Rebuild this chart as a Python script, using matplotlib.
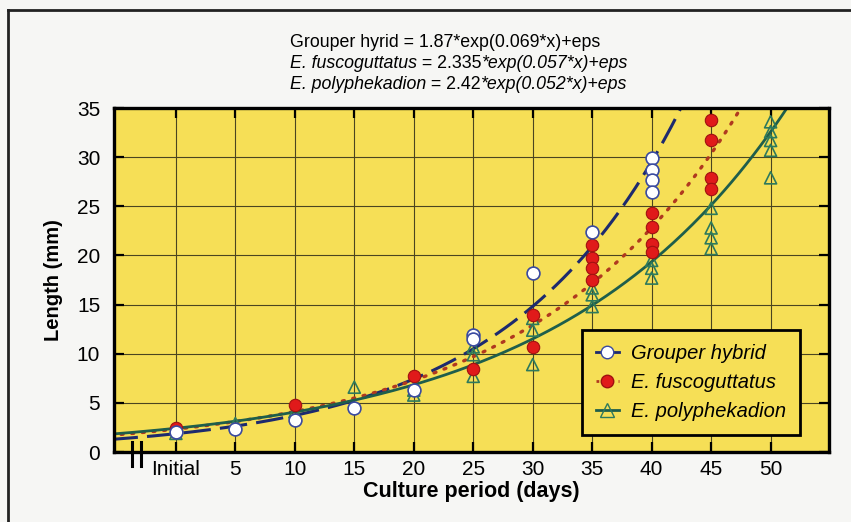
import matplotlib
matplotlib.use('Agg')
import matplotlib.pyplot as plt
import matplotlib.transforms as mtransforms
from matplotlib.lines import Line2D
import numpy as np

plt.rcParams['font.family'] = ['Liberation Sans', 'DejaVu Sans']

# tick positions / labels
x_ticks = [0, 5, 10, 15, 20, 25, 30, 35, 40, 45, 50]
x_labels = ['Initial', '5', '10', '15', '20', '25', '30', '35', '40', '45', '50']
y_ticks = [0, 5, 10, 15, 20, 25, 30, 35]

days_hybrid = [0, 5, 10, 15, 20, 25, 25, 30, 35, 40, 40, 40, 40]
len_hybrid = [2.0, 2.3, 3.3, 4.5, 6.3, 11.9, 11.5, 18.2, 22.4, 29.9, 28.7, 27.7, 26.5]

days_fusco = [0, 10, 20, 25, 30, 30, 35, 35, 35, 35, 40, 40, 40, 40, 45, 45, 45, 45]
len_fusco = [2.4, 4.8, 7.7, 8.4, 13.9, 10.7, 21.1, 19.7, 18.7, 17.5,
             24.3, 22.9, 21.2, 20.4, 33.8, 31.7, 27.9, 26.8]

days_poly = [0, 5, 10, 15, 20, 20, 25, 25, 25, 30, 30, 30, 35, 35, 35,
             40, 40, 40, 45, 45, 45, 45, 50, 50, 50, 50, 50]
len_poly = [1.9, 2.9, 4.1, 6.6, 6.3, 5.8, 10.7, 9.9, 7.7, 13.6, 12.4, 8.9,
            16.7, 16.0, 14.8, 19.5, 18.7, 17.7, 24.8, 22.8, 21.8, 20.7,
            33.6, 32.6, 31.7, 30.7, 27.9]

# fitted models: length = a*exp(b*x)
species = ['Grouper hybrid', 'E. fuscoguttatus', 'E. polyphekadion']
fit_a = [1.87, 2.335, 2.42]
fit_b = [0.069, 0.057, 0.052]

yellow = '#f6df56'
navy = '#1d2a6e'
brick = '#b0391f'
green = '#1f5e4b'

fig = plt.figure(figsize=(8.51, 5.22), dpi=100, facecolor='#f6f6f4')
ax = fig.add_axes([0.134, 0.134, 0.840, 0.659])
ax.set_facecolor(yellow)

xs = np.linspace(-5.5, 55, 300)
ax.plot(xs, fit_a[0] * np.exp(fit_b[0] * xs), color=navy, lw=2.2,
        dashes=(9, 3), zorder=2)
ax.plot(xs, fit_a[1] * np.exp(fit_b[1] * xs), color=brick, lw=2.4,
        dashes=(0.6, 2.6), dash_capstyle='round', zorder=2)
ax.plot(xs, fit_a[2] * np.exp(fit_b[2] * xs), color=green, lw=2.0, zorder=2)

ax.scatter(days_poly, len_poly, marker='^', s=75, facecolors='none',
           edgecolors='#2e7a5c', linewidths=1.2, zorder=3)
ax.scatter(days_fusco, len_fusco, marker='o', s=80, color='#e01a1a',
           edgecolors='#a01010', linewidths=0.8, zorder=4)
ax.scatter(days_hybrid, len_hybrid, marker='o', s=85, facecolors='white',
           edgecolors='#3a4aa0', linewidths=1.2, zorder=5)

ax.set_xlim(-5.2, 54.9)
ax.set_ylim(0, 35)
ax.set_xticks(x_ticks)
ax.set_xticklabels(x_labels)
ax.set_yticks(y_ticks)
ax.grid(True, color='#4a4520', lw=0.8)
ax.set_axisbelow(True)
ax.tick_params(direction='in', length=7, width=1.6, top=True, right=True,
               labelsize=15, colors='black')
ax.tick_params(axis='y', pad=10)
ax.tick_params(axis='x', pad=6)
for sp in ax.spines.values():
    sp.set_linewidth(2.4)

ax.set_xlabel('Culture period (days)', fontsize=15.5, fontweight='bold', labelpad=1)
ax.set_ylabel('Length (mm)', fontsize=14.5, fontweight='bold', labelpad=10)

# axis break marks
trans = mtransforms.blended_transform_factory(ax.transData, ax.transAxes)
for bx in [-3.7, -2.95]:
    ax.plot([bx, bx], [-0.04, 0.03], color='black', lw=2.2, transform=trans,
            clip_on=False, zorder=6)

# legend
handles = [
    Line2D([], [], color=navy, lw=2, marker='o', markersize=9,
           markerfacecolor='white', markeredgecolor='#3a4aa0'),
    Line2D([], [], color=brick, lw=2, ls=':', marker='o', markersize=9,
           markerfacecolor='#e01a1a', markeredgecolor='#a01010'),
    Line2D([], [], color=green, lw=2, marker='^', markersize=9.5,
           markerfacecolor='none', markeredgecolor='#2e7a5c'),
]
leg = ax.legend(handles, species, loc='lower left', bbox_to_anchor=(0.655, 0.049),
                borderaxespad=0,
                prop={'style': 'italic', 'size': 14.5}, frameon=True, fancybox=False,
                facecolor=yellow, edgecolor='black', framealpha=1,
                handlelength=1.1, handletextpad=0.6, borderpad=0.7,
                labelspacing=0.5)
leg.get_frame().set_linewidth(2)
leg.set_zorder(10)

# equations above the plot
fs = 12.8
fig.text(290 / 851, 1 - 51 / 522, 'Grouper hyrid = 1.87*exp(0.069*x)+eps',
         fontsize=fs, va='bottom', ha='left')
lines = [('E. fuscoguttatus', ' = 2.335', '*exp(0.057*x)+eps', 72),
         ('E. polyphekadion', ' = 2.42', '*exp(0.052*x)+eps', 93)]
for name, num, rest, ypx in lines:
    a = fig.text(290 / 851, 1 - ypx / 522, name, fontsize=fs, style='italic',
                 va='bottom', ha='left')
    b = ax.annotate(num, xy=(1, 0), xycoords=a, fontsize=fs, va='bottom', ha='left')
    ax.annotate(rest, xy=(1, 0), xycoords=b, fontsize=fs, style='italic',
                va='bottom', ha='left')

# frame lines around the figure
fig.add_artist(Line2D([8 / 851, 1], [1 - 10 / 522, 1 - 10 / 522], color='#222222', lw=2))
fig.add_artist(Line2D([8 / 851, 8 / 851], [0, 1 - 10 / 522], color='#222222', lw=2))

fig.savefig('out.png', dpi=100, facecolor=fig.get_facecolor())
